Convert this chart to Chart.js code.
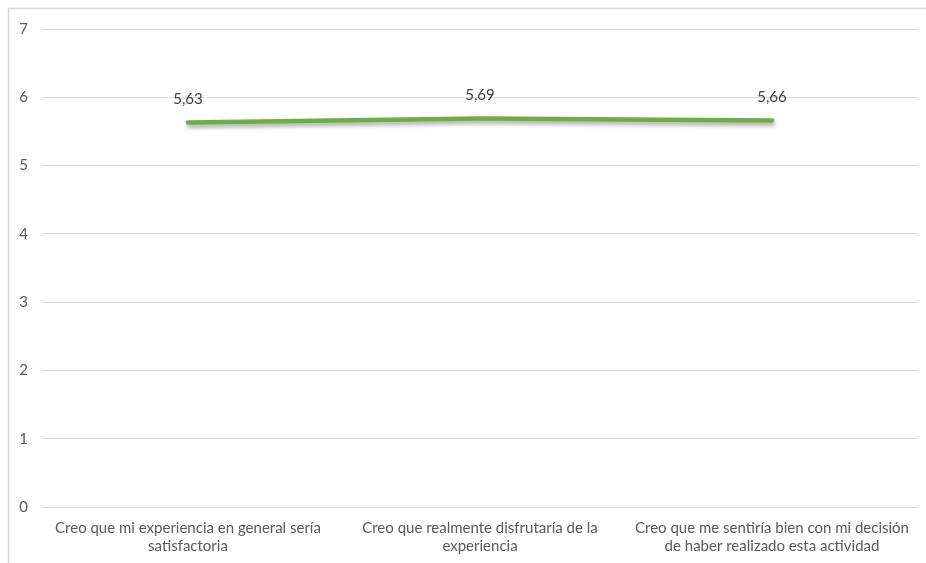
<!DOCTYPE html>
<html>
<head>
<meta charset="utf-8">
<script src="https://cdn.jsdelivr.net/npm/chart.js@4/dist/chart.umd.min.js"></script>
<style>
  html, body { margin: 0; padding: 0; background: #fff; }
  #wrap { width: 926px; height: 563px; position: relative; }
</style>
</head>
<body>
<div id="wrap"><canvas id="grafico"></canvas></div>
<script>
// Datos del gráfico
const categorias = [
    ['Creo que mi experiencia en general sería', 'satisfactoria'],
    ['Creo que realmente disfrutaría de la', 'experiencia'],
    ['Creo que me sentiría bien con mi decisión', 'de haber realizado esta actividad']
];
const valores = [5.63, 5.69, 5.66];
const ticksY = [0, 1, 2, 3, 4, 5, 6, 7];

const fuente = 'Lato, "Open Sans", sans-serif';

// Marco gris del área del gráfico
const marco = {
    id: 'marco',
    beforeDraw(chart) {
        const ctx = chart.ctx;
        ctx.save();
        ctx.strokeStyle = '#d9d9d9';
        ctx.lineWidth = 1.5;
        ctx.strokeRect(8.5, 8.5, chart.width + 20, chart.height + 20);
        ctx.restore();
    }
};

// Sombra bajo la línea
const sombra = {
    id: 'sombra',
    beforeDatasetDraw(chart) {
        const ctx = chart.ctx;
        ctx.save();
        ctx.shadowColor = 'rgba(0,0,0,0.35)';
        ctx.shadowBlur = 4;
        ctx.shadowOffsetY = 3;
        ctx.shadowOffsetX = 1;
    },
    afterDatasetDraw(chart) {
        chart.ctx.restore();
    }
};

// Etiquetas de valor encima de cada punto
const etiquetas = {
    id: 'etiquetas',
    afterDatasetsDraw(chart) {
        const ctx = chart.ctx;
        const meta = chart.getDatasetMeta(0);
        ctx.save();
        ctx.font = '15px ' + fuente;
        ctx.fillStyle = '#404040';
        ctx.textAlign = 'center';
        ctx.textBaseline = 'middle';
        meta.data.forEach((pt, i) => {
            const txt = valores[i].toFixed(2).replace('.', ',');
            ctx.fillText(txt, pt.x, pt.y - 23);
        });
        ctx.restore();
    }
};

const config = {
    type: 'line',
    data: {
        labels: categorias,
        datasets: [{
            data: valores,
            borderColor: '#70ad47',
            borderWidth: 4.5,
            borderCapStyle: 'round',
            pointRadius: 0,
            tension: 0,
            fill: false
        }]
    },
    options: {
        responsive: false,
        animation: false,
        layout: { padding: { top: 29, right: 8, left: 0, bottom: 0 } },
        plugins: {
            legend: { display: false },
            tooltip: { enabled: false }
        },
        scales: {
            x: {
                offset: true,
                grid: { display: false },
                border: { display: false },
                ticks: {
                    color: '#595959',
                    font: { family: fuente, size: 15, lineHeight: 1.2 },
                    padding: 4,
                    maxRotation: 0,
                    autoSkip: false
                },
                afterFit(scale) { scale.height = 56; }
            },
            y: {
                min: 0,
                max: 7,
                afterBuildTicks(scale) {
                    scale.ticks = ticksY.map(v => ({ value: v }));
                },
                grid: { color: '#d9d9d9', drawTicks: false, lineWidth: 1 },
                border: { display: false },
                ticks: {
                    color: '#595959',
                    font: { family: fuente, size: 15 },
                    padding: 14
                },
                afterFit(scale) { scale.width = 42; }
            }
        }
    },
    plugins: [marco, sombra, etiquetas]
};

const canvas = document.getElementById('grafico');
canvas.width = 926;
canvas.height = 563;
new Chart(canvas.getContext('2d'), config);
</script>
</body>
</html>
